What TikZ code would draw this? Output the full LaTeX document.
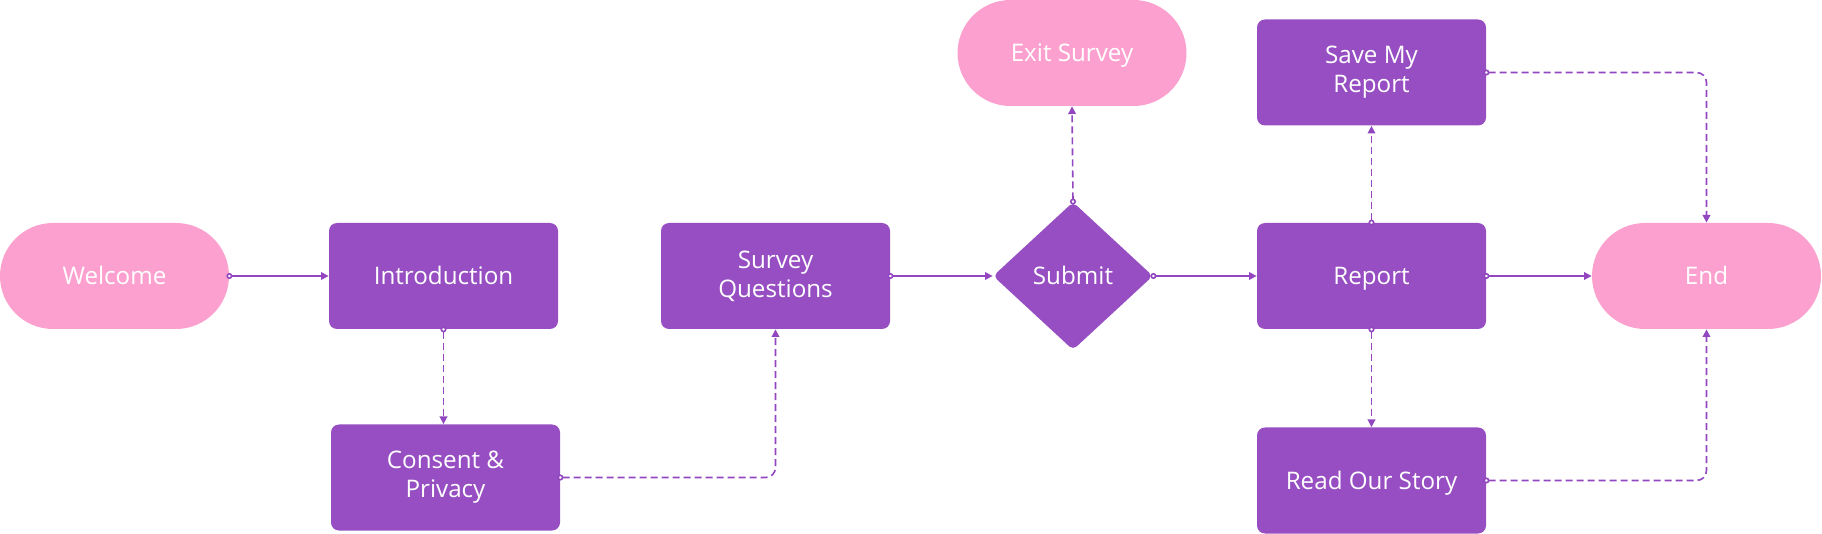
\documentclass[tikz,border=0pt]{standalone}
\usepackage{fontspec}
\setmainfont{Open Sans}
\usetikzlibrary{arrows.meta,shapes.geometric}
\definecolor{boxpurple}{RGB}{151,78,194}
\definecolor{termpink}{RGB}{252,161,207}
\definecolor{linepurple}{RGB}{146,70,192}
\begin{document}
\begin{tikzpicture}[x=0.5pt,y=-0.5pt,
  every node/.style={font=\fontsize{12.1}{14.6}\selectfont, text=white, align=center, inner sep=0pt},
  oneline/.style={text height=8.6pt, text depth=0pt},
  procbox/.style={fill=boxpurple, rounded corners=4pt, minimum width=114.5pt, minimum height=53pt},
  termbox/.style={fill=termpink, rounded corners=26.5pt, minimum width=114.5pt, minimum height=53pt, oneline},
  decbox/.style={diamond, fill=boxpurple, rounded corners=2.5pt, minimum width=80pt, minimum height=74pt},
  flow/.style={draw=linepurple, line width=0.8pt, shorten <=-1.5pt, {Circle[length=3pt,fill=white]}-{Triangle[length=3.8pt,width=3.8pt]}},
  alt/.style={flow, dash pattern=on 3.5pt off 2pt, rounded corners=5pt}]
\useasboundingbox (0,0) rectangle (1822,534);
\node[termbox] (welcome) at (114.5,276) {Welcome};
\node[procbox, oneline] (intro) at (443.5,276) {Introduction};
\node[procbox] (consent) at (445.5,477.5) {Consent \&\\Privacy};
\node[procbox] (survey) at (775.5,276) {Survey\\Questions};
\node[decbox, oneline] (submit) at (1073,276) {Submit};
\node[termbox] (exit) at (1072,53) {Exit Survey};
\node[procbox] (save) at (1371.5,72.5) {Save My\\Report};
\node[procbox, oneline] (report) at (1371.5,276) {Report};
\node[procbox, oneline] (story) at (1371.5,480.5) {Read Our Story};
\node[termbox] (end) at (1706.5,276) {End};
\draw[flow] (welcome.east) -- (intro.west);
\draw[alt] (intro.south) -- (intro.south |- consent.north);
\draw[alt] (consent.east) -| (survey.south);
\draw[flow] (survey.east) -- (submit.west);
\draw[alt] (submit.north) -- (exit.south);
\draw[flow] (submit.east) -- (report.west);
\draw[alt] (report.north) -- (save.south);
\draw[flow] (report.east) -- (end.west);
\draw[alt] (report.south) -- (story.north);
\draw[alt] (save.east) -| (end.north);
\draw[alt] (story.east) -| (end.south);
\end{tikzpicture}
\end{document}
